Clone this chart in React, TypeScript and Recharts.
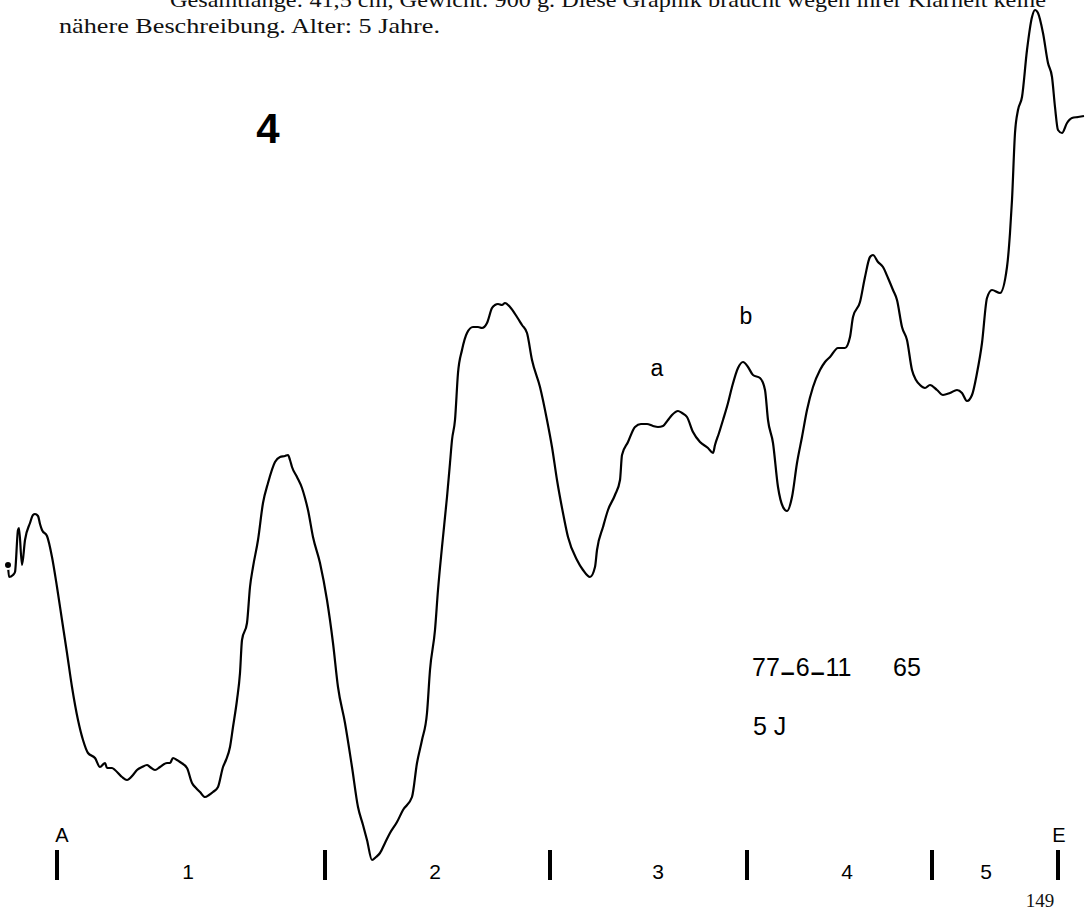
import React from "react"
import {
  ComposedChart,
  Line,
  ReferenceLine,
  Scatter,
  XAxis,
  YAxis,
} from "recharts"

// scan position along the strip (A .. E) and optical density
const position = [
  0.8, 0.9, 1.3, 1.5, 1.8, 1.9, 2.2, 2.5, 3.0, 3.3,
  3.5, 3.8, 4.0, 4.2, 4.7, 5.2, 5.7, 6.2, 6.7, 7.2,
  7.8, 8.3, 8.8, 9.5, 10.0, 10.5, 10.7, 11.2, 11.5, 12.2,
  12.7, 13.3, 13.7, 14.2, 14.7, 15.0, 15.5, 16.0, 16.7, 17.0,
  17.3, 17.7, 18.0, 18.7, 19.2, 19.6, 20.0, 20.5, 20.9, 21.3,
  21.8, 22.3, 22.6, 23.0, 23.3, 23.7, 24.0, 24.2, 24.7, 25.0,
  25.3, 25.8, 26.3, 26.8, 27.5, 28.0, 28.5, 28.8, 29.0, 29.2,
  29.7, 30.2, 30.5, 30.8, 31.3, 32.0, 32.7, 33.3, 33.8, 34.5,
  35.2, 35.8, 36.3, 36.7, 37.2, 37.6, 38.0, 38.5, 39.0, 39.7,
  40.3, 41.2, 41.7, 42.2, 42.7, 43.0, 43.5, 43.8, 44.2, 44.7,
  45.0, 45.2, 45.5, 45.8, 46.2, 46.7, 47.3, 47.8, 48.2, 48.7,
  49.2, 49.5, 49.8, 50.2, 50.5, 51.0, 51.7, 52.2, 52.7, 53.2,
  54.0, 54.7, 55.2, 55.7, 56.3, 56.8, 57.7, 58.3, 59.0, 59.5,
  59.7, 60.3, 60.8, 61.5, 62.0, 62.2, 62.8, 63.5, 64.1, 64.7,
  65.3, 65.8, 66.3, 66.8, 67.2, 67.8, 68.2, 68.7, 69.3, 70.0,
  70.8, 71.3, 71.5, 71.9, 72.3, 72.8, 73.2, 73.8, 74.3, 74.8,
  75.3, 76.0, 76.5, 76.8, 77.3, 77.8, 78.3, 78.7, 79.2, 79.7,
  80.2, 80.7, 81.3, 82.0, 82.5, 83.0, 83.8, 84.5, 85.0, 85.3,
  86.0, 86.5, 87.0, 87.3, 87.8, 88.3, 88.8, 89.3, 89.7, 90.2,
  90.7, 91.2, 91.6, 92.0, 92.5, 93.0, 93.7, 94.3, 95.0, 95.7,
  96.2, 96.7, 97.2, 97.7, 98.2, 98.7, 99.2, 100.0, 100.7, 101.0,
  101.2, 101.5, 101.8, 102.2, 102.7, 103.2, 103.5, 103.8, 104.3, 104.8,
  105.2, 105.5, 105.8, 106.2, 106.7, 107.2, 107.8, 108.4,
]

const density = [
  34.7, 33.5, 33.7, 34.0, 38.2, 38.4, 34.7, 37.2, 38.9, 39.7,
  39.8, 39.6, 38.8, 38.2, 37.6, 35.5, 32.5, 29.2, 25.9, 22.5,
  19.2, 17.2, 15.9, 15.4, 14.5, 14.9, 14.4, 14.4, 14.2, 13.5,
  13.2, 13.7, 14.2, 14.5, 14.7, 14.5, 14.2, 14.5, 14.9, 14.9,
  15.4, 15.2, 15.0, 14.4, 12.9, 12.4, 12.0, 11.5, 11.7, 12.0,
  12.5, 14.5, 15.2, 16.5, 18.5, 21.2, 23.9, 27.2, 28.9, 32.5,
  34.5, 37.2, 40.9, 42.9, 45.0, 45.5, 45.6, 45.7, 45.2, 44.5,
  43.5, 42.4, 41.4, 40.2, 37.5, 34.9, 31.2, 26.9, 22.5, 18.9,
  14.5, 10.5, 8.7, 7.2, 5.2, 5.5, 5.9, 6.9, 7.9, 9.0,
  10.2, 11.5, 14.9, 17.2, 19.9, 24.2, 28.2, 32.2, 36.5, 41.5,
  44.9, 47.2, 49.2, 53.9, 56.2, 57.9, 58.5, 58.5, 58.4, 58.9,
  60.4, 60.7, 60.8, 60.7, 60.9, 60.5, 59.5, 58.7, 57.9, 55.2,
  52.5, 49.2, 46.5, 43.2, 39.9, 37.5, 35.2, 34.2, 33.5, 34.5,
  36.2, 38.5, 40.2, 41.7, 43.2, 45.7, 47.0, 48.5, 48.8, 48.8,
  48.6, 48.5, 48.6, 49.2, 49.7, 50.1, 49.9, 49.5, 48.0, 47.0,
  46.4, 45.9, 46.7, 47.9, 49.2, 50.9, 52.5, 54.4, 55.0, 54.5,
  53.7, 53.4, 52.2, 49.2, 46.9, 42.5, 40.5, 40.1, 41.5, 44.9,
  47.5, 50.2, 52.5, 54.2, 55.0, 55.5, 56.4, 56.4, 57.5, 59.5,
  61.0, 63.5, 65.5, 65.7, 65.0, 64.5, 63.4, 62.2, 61.2, 58.5,
  57.2, 54.2, 53.2, 52.7, 52.4, 52.7, 52.2, 51.7, 51.9, 52.2,
  51.9, 51.1, 51.7, 53.9, 56.9, 61.4, 62.2, 61.9, 64.5, 67.9,
  71.2, 77.9, 80.2, 81.5, 86.2, 89.5, 90.2, 89.9, 87.9, 84.9,
  83.5, 80.5, 78.2, 77.9, 78.9, 79.4, 79.5, 79.6,
]

// fraction boundaries on the strip (A, 1|2, 2|3, 3|4, 4|5, E)
const boundaries = [5.7, 32.5, 55.0, 74.7, 93.2, 105.8]
const fractionNames = ["1", "2", "3", "4", "5"]
const fractionCenters = [18.8, 43.5, 65.8, 84.7, 98.6]
const endNames = ["A", "E"]
const endPositions = [6.2, 105.9]
const peakNames = ["a", "b"]
const peakPositions = [65.7, 74.6]
const peakLevels = [54.4, 59.6]

const trace = position.map((p, i) => ({ pos: p, density: density[i] }))
const fractionData = fractionNames.map((t, i) => ({ pos: fractionCenters[i], level: 4.1, text: t }))
const endData = endNames.map((t, i) => ({ pos: endPositions[i], level: 7.7, text: t }))
const peakData = peakNames.map((t, i) => ({ pos: peakPositions[i], level: peakLevels[i], text: t }))

const W = 1087
const H = 912
const sans = "'Liberation Sans', Arial, sans-serif"
const serif = "'Liberation Serif', 'DejaVu Serif', serif"

const textShape = (size: number) => (props: any) => (
  <text
    x={props.cx}
    y={props.cy}
    textAnchor="middle"
    dominantBaseline="central"
    fontFamily={sans}
    fontSize={size}
    fill="#000"
  >
    {props.payload.text}
  </text>
)

export default function App() {
  return (
    <div style={{ position: "absolute", left: 0, top: 0, width: W, height: H, background: "#fff", overflow: "hidden" }}>
      <ComposedChart width={W} height={H} data={trace} margin={{ top: 0, right: 0, bottom: 0, left: 0 }}>
        <XAxis type="number" dataKey="pos" domain={[0, 108.7]} hide />
        <YAxis type="number" domain={[0, 91.2]} hide />
        <Line
          type="monotone"
          dataKey="density"
          stroke="#000"
          strokeWidth={2.2}
          dot={false}
          isAnimationActive={false}
        />
        {boundaries.map((b) => (
          <ReferenceLine
            key={b}
            segment={[{ x: b, y: 3.2 }, { x: b, y: 6.2 }]}
            stroke="#000"
            strokeWidth={4}
            ifOverflow="visible"
          />
        ))}
        <Scatter data={fractionData} dataKey="level" shape={textShape(21)} isAnimationActive={false} />
        <Scatter data={endData} dataKey="level" shape={textShape(20)} isAnimationActive={false} />
        <Scatter data={peakData} dataKey="level" shape={textShape(23)} isAnimationActive={false} />
      </ComposedChart>

      <svg width={W} height={H} style={{ position: "absolute", left: 0, top: 0, pointerEvents: "none" }}>
        <text x={170} y={7} fontFamily={serif} fontSize={21} fill="#111" textLength={876} lengthAdjust="spacingAndGlyphs">
          Gesamtlänge: 41,5 cm, Gewicht: 900 g. Diese Graphik braucht wegen ihrer Klarheit keine
        </text>
        <text x={59} y={33} fontFamily={serif} fontSize={21} fill="#111" textLength={381} lengthAdjust="spacingAndGlyphs">
          nähere Beschreibung. Alter: 5 Jahre.
        </text>
        <text x={268} y={143} textAnchor="middle" fontFamily={sans} fontWeight="bold" fontSize={42} fill="#000">
          4
        </text>
        <text x={752} y={676} fontFamily={sans} fontSize={25} fill="#000">
          77
          <tspan dx={1} dy={5} fontWeight="bold">–</tspan>
          <tspan dx={1} dy={-5}>6</tspan>
          <tspan dx={1} dy={5} fontWeight="bold">–</tspan>
          <tspan dx={1} dy={-5}>11</tspan>
        </text>
        <text x={893} y={676} fontFamily={sans} fontSize={25} fill="#000">65</text>
        <text x={753} y={735} fontFamily={sans} fontSize={25} fill="#000">5 J</text>
        <text x={1040} y={907} textAnchor="middle" fontFamily={serif} fontSize={19} fill="#111">149</text>
      </svg>
    </div>
  )
}
